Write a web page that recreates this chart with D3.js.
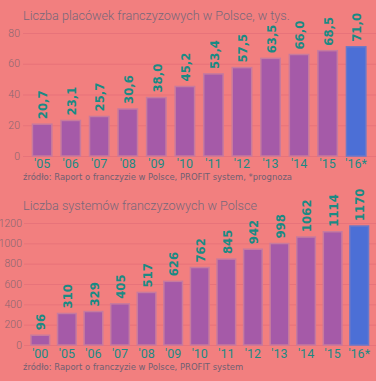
<!DOCTYPE html>
<html><head><meta charset="utf-8">
<script src="https://cdn.jsdelivr.net/npm/d3@7"></script>
<style>
html,body{margin:0;padding:0;background:#f27f7f;}
svg{display:block;}
</style></head>
<body>
<svg id="c" width="376" height="381"></svg>
<script>
// Chart 1 data
const years1 = ["'05","'06","'07","'08","'09","'10","'11","'12","'13","'14","'15","'16*"];
const values1 = [20.7,23.1,25.7,30.6,38.0,45.2,53.4,57.5,63.5,66.0,68.5,71.0];
const ticks1 = [0,20,40,60,80];
const title1 = "Liczba placówek franczyzowych w Polsce, w tys.";
const source1 = "źródło: Raport o franczyzie w Polsce, PROFIT system, *prognoza";
// Chart 2 data
const years2 = ["'00","'05","'06","'07","'08","'09","'10","'11","'12","'13","'14","'15","'16*"];
const values2 = [96,310,329,405,517,626,762,845,942,998,1062,1114,1170];
const ticks2 = [0,200,400,600,800,1000,1200];
const title2 = "Liczba systemów franczyzowych w Polsce";
const source2 = "źródło: Raport o franczyzie w Polsce, PROFIT system";

const svg = d3.select("#c");
const C = {bg:"#f27f7f", bar:"#a55aa8", barStroke:"#c77a9e", last:"#4c6fd6", label:"#1b8a84",
  grid:"#e7737a", tick:"#8c6670", title:"#76687a", src:"#6f5f72"};
const condensed = "'DejaVu Sans Condensed','Liberation Sans Narrow','DejaVu Sans',sans-serif";

function drawChart(cfg){
  const g = svg.append("g");
  const x = d3.scaleBand().domain(cfg.cats).range([cfg.x0, cfg.x1]).padding(cfg.pad);
  const y = d3.scaleLinear().domain([0, cfg.max]).range([cfg.y0, cfg.yTop]);
  // title
  g.append("text").attr("x", 23).attr("y", cfg.titleY).text(cfg.title)
    .attr("font-family","Roboto, 'Open Sans', sans-serif").attr("font-weight",300)
    .attr("font-size", 12.6).attr("fill", C.title);
  // grid
  g.selectAll("line.grid").data(cfg.ticks).join("line")
    .attr("x1", cfg.gx).attr("x2", 376).attr("y1", d=>y(d)+0.5).attr("y2", d=>y(d)+0.5)
    .attr("stroke", C.grid).attr("stroke-width",1);
  // y tick labels
  g.selectAll("text.yt").data(cfg.ticks).join("text")
    .attr("x", cfg.tx).attr("y", d=>y(d)).attr("dy","0.35em").attr("text-anchor","end")
    .attr("font-family","Roboto, sans-serif").attr("font-weight",300).attr("font-size",10.5)
    .attr("fill", C.tick).text(d=>d);
  // bars
  g.selectAll("rect.bar").data(cfg.vals).join("rect")
    .attr("x",(d,i)=>x(cfg.cats[i])).attr("width", x.bandwidth())
    .attr("y", d=>y(d)).attr("height", d=>cfg.y0 - y(d))
    .attr("fill",(d,i)=> i===cfg.vals.length-1 ? C.last : C.bar)
    .attr("stroke",(d,i)=> i===cfg.vals.length-1 ? "#6a78c8" : C.barStroke).attr("stroke-width",1.5);
  // value labels
  g.selectAll("text.val").data(cfg.vals).join("text")
    .attr("transform",(d,i)=>`translate(${x(cfg.cats[i])+x.bandwidth()/2+0.5},${y(d)-5}) rotate(-90)`)
    .attr("dy","0.36em").attr("text-anchor","start")
    .attr("font-family", condensed).attr("font-weight","bold").attr("font-size",13)
    .attr("fill", C.label).text(cfg.fmt);
  // x labels
  g.selectAll("text.xl").data(cfg.cats).join("text")
    .attr("x", d=>x(d)+x.bandwidth()/2).attr("y", cfg.xlY).attr("text-anchor","middle")
    .attr("font-family","Roboto, sans-serif").attr("font-size",12.5)
    .attr("fill", C.label).text(d=>d);
  // source
  g.append("text").attr("x", 23).attr("y", cfg.srcY).text(cfg.source)
    .attr("font-family", condensed).attr("font-size", 9.4).attr("fill", C.src);
}

drawChart({cats:years1, vals:values1, ticks:ticks1, max:80, x0:23.3, x1:375, pad:0.32,
  y0:156, yTop:33, gx:23, tx:20, titleY:20, xlY:168, srcY:180, title:title1, source:source1,
  fmt:d=>d3.format(".1f")(d).replace(".",",")});
drawChart({cats:years2, vals:values2, ticks:ticks2, max:1200, x0:23, x1:376.5, pad:0.3,
  y0:345, yTop:223, gx:24, tx:22, titleY:210, xlY:358, srcY:370, title:title2, source:source2,
  fmt:d=>String(d)});
</script>
</body></html>
